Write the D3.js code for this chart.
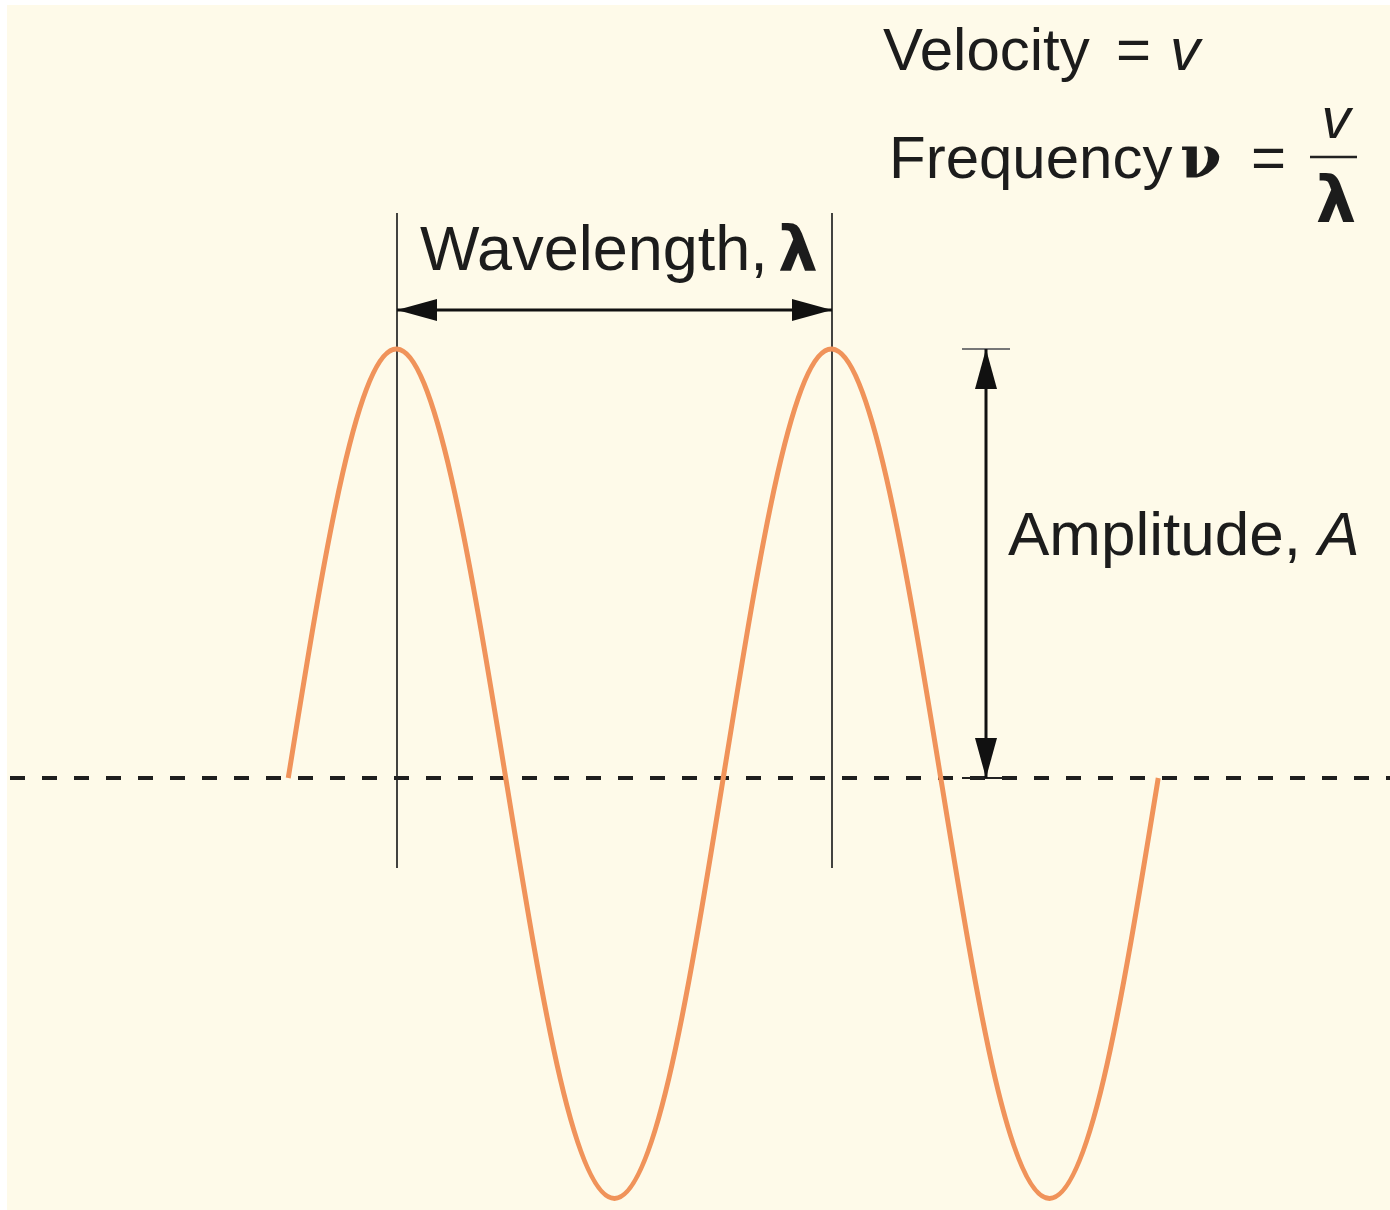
<!DOCTYPE html>
<html>
<head>
<meta charset="utf-8">
<script src="https://cdn.jsdelivr.net/npm/d3@7"></script>
<style>
  body { margin: 0; background: #fff; }
  text { font-family: "Liberation Sans", Arial, sans-serif; fill: #1c1c1c; }
</style>
</head>
<body>
<script>
    // phase of the wave, in wavelengths (first crest at 0)
    const phase = [-0.25, -0.125, 0, 0.125, 0.25, 0.375, 0.5, 0.625, 0.75,
        0.875, 1, 1.125, 1.25, 1.375, 1.5, 1.625, 1.75]
    // displacement, in amplitudes
    const displacement = [0, 0.71, 1, 0.7, 0, -0.7, -0.98, -0.7, 0,
        0.71, 1, 0.7, 0, -0.7, -0.98, -0.7, 0]
    const wave = phase.map((p, i) => ({ p: p, d: displacement[i] }))

    const crests = [0, 1]          // the two crests spanned by the wavelength marker
    const labels = {
        wavelength: "Wavelength,",
        amplitude: "Amplitude, ",
        velocity: "Velocity",
        frequency: "Frequency"
    }

    const width = 1390
    const height = 1210

    const svg = d3.select("body")
        .append("svg")
        .attr("width", width)
        .attr("height", height)

    svg.append("rect")
        .attr("x", 7).attr("y", 5)
        .attr("width", width - 7).attr("height", height - 5)
        .attr("fill", "#fefae9")

    const x = d3.scaleLinear()
        .domain([0, 1])
        .range([397, 832])
    const y = d3.scaleLinear()
        .domain([0, 1])
        .range([778, 349])

    const defs = svg.append("defs")
    defs.append("marker")
        .attr("id", "head")
        .attr("viewBox", "0 0 40 24")
        .attr("refX", 40).attr("refY", 12)
        .attr("markerWidth", 40).attr("markerHeight", 24)
        .attr("markerUnits", "userSpaceOnUse")
        .attr("orient", "auto-start-reverse")
        .append("path")
        .attr("d", "M0,1 L40,12 L0,23 Z")
        .attr("fill", "#111")

    // baseline
    svg.append("line")
        .attr("x1", 10).attr("x2", width)
        .attr("y1", y(0)).attr("y2", y(0))
        .attr("stroke", "#1e1e1e")
        .attr("stroke-width", 4)
        .attr("stroke-dasharray", "15,17")

    // crest markers
    svg.selectAll(".crest")
        .data(crests)
        .join("line")
        .attr("class", "crest")
        .attr("x1", d => x(d)).attr("x2", d => x(d))
        .attr("y1", 213).attr("y2", 868)
        .attr("stroke", "#222")
        .attr("stroke-width", 1.7)

    const line = d3.line()
        .x(d => x(d.p))
        .y(d => y(d.d))
        .curve(d3.curveNatural)

    svg.append("path")
        .attr("d", line(wave))
        .attr("fill", "none")
        .attr("stroke", "#f0935a")
        .attr("stroke-width", 5)

    // wavelength arrow
    svg.append("line")
        .attr("x1", x(crests[0])).attr("x2", x(crests[1]))
        .attr("y1", 310).attr("y2", 310)
        .attr("stroke", "#111")
        .attr("stroke-width", 3)
        .attr("marker-start", "url(#head)")
        .attr("marker-end", "url(#head)")

    const wl = svg.append("text")
        .attr("x", 420).attr("y", 270)
        .attr("font-size", 63)
        .text(labels.wavelength)
    wl.append("tspan")
        .attr("x", 778)
        .attr("font-weight", "bold")
        .style("font-family", "'DejaVu Sans', sans-serif")
        .text("λ")

    // amplitude arrow
    const ax = 986
    svg.append("line")
        .attr("x1", 962).attr("x2", 1010)
        .attr("y1", y(1)).attr("y2", y(1))
        .attr("stroke", "#777")
        .attr("stroke-width", 2)
    svg.append("line")
        .attr("x1", 962).attr("x2", 1010)
        .attr("y1", y(0)).attr("y2", y(0))
        .attr("stroke", "#222")
        .attr("stroke-width", 2)
    svg.append("line")
        .attr("x1", ax).attr("x2", ax)
        .attr("y1", y(1)).attr("y2", y(0))
        .attr("stroke", "#111")
        .attr("stroke-width", 3)
        .attr("marker-start", "url(#head)")
        .attr("marker-end", "url(#head)")

    const amp = svg.append("text")
        .attr("x", 1008).attr("y", 555)
        .attr("font-size", 62)
        .text(labels.amplitude)
    amp.append("tspan").attr("font-style", "italic").text("A")

    // formulas
    const vel = svg.append("text")
        .attr("x", 883).attr("y", 70)
        .attr("font-size", 60)
        .text(labels.velocity)
    vel.append("tspan").attr("x", 1116).text("=")
    vel.append("tspan").attr("x", 1170).attr("font-style", "italic").text("v")

    const freq = svg.append("text")
        .attr("x", 889).attr("y", 178)
        .attr("font-size", 60)
        .text(labels.frequency)
    freq.append("tspan")
        .attr("x", 1180)
        .style("font-family", "'DejaVu Serif', serif")
        .attr("font-weight", "bold")
        .text("ν")
    freq.append("tspan").attr("x", 1251).text("=")

    svg.append("text")
        .attr("x", 1336).attr("y", 138)
        .attr("text-anchor", "middle")
        .attr("font-size", 58)
        .attr("font-style", "italic")
        .text("v")
    svg.append("line")
        .attr("x1", 1310).attr("x2", 1357)
        .attr("y1", 157).attr("y2", 157)
        .attr("stroke", "#222")
        .attr("stroke-width", 2.5)
    svg.append("text")
        .attr("x", 1336).attr("y", 222)
        .attr("text-anchor", "middle")
        .attr("font-size", 64)
        .attr("font-weight", "bold")
        .style("font-family", "'DejaVu Sans', sans-serif")
        .text("λ")
</script>
</body>
</html>
